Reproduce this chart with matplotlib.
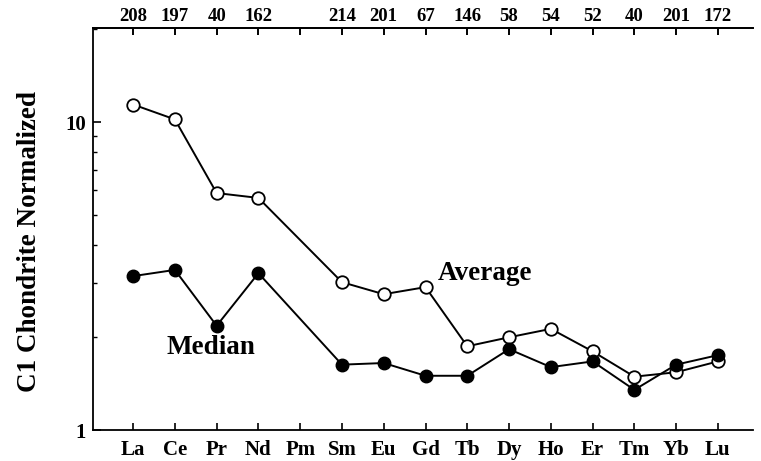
import matplotlib

matplotlib.use("Agg")
import matplotlib.pyplot as plt
import numpy as np
from matplotlib.ticker import FixedLocator, LogLocator, NullFormatter

# REE order (Pm has no data point)
elements = ["La", "Ce", "Pr", "Nd", "Pm", "Sm", "Eu", "Gd", "Tb", "Dy", "Ho", "Er", "Tm", "Yb", "Lu"]
counts = ["208", "197", "40", "162", "", "214", "201", "67", "146", "58", "54", "52", "40", "201", "172"]
plotted = ["La", "Ce", "Pr", "Nd", "Sm", "Eu", "Gd", "Tb", "Dy", "Ho", "Er", "Tm", "Yb", "Lu"]
average = [11.4, 10.2, 5.88, 5.67, 3.02, 2.76, 2.91, 1.87, 2.00, 2.13, 1.80, 1.49, 1.54, 1.67]
median = [3.16, 3.31, 2.18, 3.23, 1.63, 1.65, 1.50, 1.50, 1.83, 1.60, 1.67, 1.35, 1.63, 1.75]

plt.rcParams["font.family"] = ["Liberation Serif", "DejaVu Serif"]
plt.rcParams["font.weight"] = "bold"

fig = plt.figure(figsize=(7.61, 4.61), dpi=100)
ax = fig.add_axes([93 / 761, 1 - 430 / 461, (753 - 93) / 761, (430 - 28) / 461])

xi = [elements.index(e) for e in plotted]
ax.plot(xi, average, "-", color="black", lw=1.4, marker="o", ms=9,
        mfc="white", mec="black", mew=1.3, zorder=3)
ax.plot(xi, median, "-", color="black", lw=1.4, marker="o", ms=9,
        mfc="black", mec="black", zorder=4)

ax.set_yscale("log")
ax.set_ylim(1, 20.2)
ax.set_xlim(-0.96, 14.84)
ax.yaxis.set_major_locator(FixedLocator([1, 10]))
ax.set_yticklabels(["1", "10"])
ax.yaxis.set_minor_locator(LogLocator(base=10, subs=np.arange(2, 10)))
ax.yaxis.set_minor_formatter(NullFormatter())
ax.tick_params(axis="y", which="major", direction="in", length=6, width=1.2, labelsize=15, pad=5)
ax.tick_params(axis="y", which="minor", direction="in", length=3, width=1)

ax.set_xticks(range(len(elements)))
ax.set_xticklabels(elements)
ax.tick_params(axis="x", direction="in", length=5, width=1.2, labelsize=15, pad=7,
               top=True, labeltop=False)

top = ax.secondary_xaxis("top")
top.set_xticks(range(len(elements)))
top.set_xticklabels(counts)
top.tick_params(direction="in", length=5, width=1.2, labelsize=13.5, pad=2)
top.spines["top"].set_linewidth(1.3)

for side in ["left", "bottom", "top"]:
    ax.spines[side].set_linewidth(1.3)
ax.spines["right"].set_visible(False)

ax.set_ylabel("C1 Chondrite Normalized", fontsize=19.5, fontweight="bold")
ax.yaxis.set_label_coords(-0.078, 0.47)

ax.text(7.3, 3.23, "Average", fontsize=19.5, fontweight="bold", ha="left", va="center")
ax.text(0.81, 1.85, "Median", fontsize=19.5, fontweight="bold", ha="left", va="center")

fig.savefig("out.png", dpi=100)
